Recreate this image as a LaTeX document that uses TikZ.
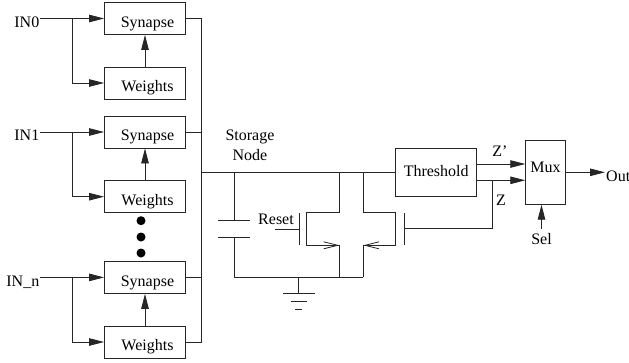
\documentclass[tikz,border=0pt]{standalone}
\usepackage{fontspec}
\setmainfont{Liberation Serif}
\usetikzlibrary{arrows.meta}
\tikzset{
  every node/.style={font=\fontsize{16}{18}\selectfont},
  wire/.style={line width=0.85pt,black!85},
  arrowwire/.style={wire,-{Triangle[length=15pt,width=7.5pt]}},
  openwire/.style={wire,-{Straight Barb[length=14pt,width=7pt,line width=0.8pt]}},
  block/.style={draw=black!85,line width=0.85pt,minimum width=81pt,minimum height=32pt,inner sep=0pt,anchor=center},
  lbl/.style={inner sep=0pt,anchor=base},
  blackdot/.style={circle,fill=black,inner sep=0pt,minimum size=9pt},
}
\newcommand{\blk}[1]{\hspace{5pt}\raisebox{-8.8pt}[0pt][0pt]{#1}}
\begin{document}
\begin{tikzpicture}[x=1pt,y=-1pt]
\useasboundingbox (0,0) rectangle (629,362);
% blocks
\node[block] (s0) at (145,18.5) {\blk{Synapse}};
\node[block] (w0) at (145,83) {\blk{Weights}};
\node[block] (s1) at (145,132) {\blk{Synapse}};
\node[block] (w1) at (145,196.7) {\blk{Weights}};
\node[block] (sn) at (145,277.4) {\blk{Synapse}};
\node[block] (wn) at (145,342) {\blk{Weights}};
\node[block,minimum width=81pt,minimum height=48pt] (th) at (436.2,172.2) {\raisebox{-4.5pt}[0pt][0pt]{Threshold}};
\node[block,minimum width=40.5pt,minimum height=64.7pt] (mux) at (545.5,172.3) {\raisebox{-0.4pt}[0pt][0pt]{Mux}};
% input labels
\node[lbl,anchor=base east] (in0) at (39.5,27) {IN0};
\node[lbl,anchor=base east] (in1) at (39.5,140) {IN1};
\node[lbl,anchor=base east] (inn) at (39.5,286) {IN\_n};
\coordinate (i0) at (40,18.5); \coordinate (b0) at (72.5,18.5); \coordinate (b0d) at (72.5,83);
\coordinate (i1) at (40,132); \coordinate (b1) at (72.5,132); \coordinate (b1d) at (72.5,196.7);
\coordinate (in) at (40,277.4); \coordinate (bn) at (72.5,277.4); \coordinate (bnd) at (72.5,342);
\foreach \a/\b/\c/\d/\e/\f in {i0/b0/b0d/s0/w0/0,i1/b1/b1d/s1/w1/1,in/bn/bnd/sn/wn/n}{
  \draw[arrowwire] (\a) -- (\d.west);
  \draw[arrowwire] (\b) -- (\c) -- (\e.west);
  \draw[arrowwire] (\e.north) -- (\d.south);
}
% dots
\node[blackdot] (d1) at (141,220.7) {};
\node[blackdot] (d2) at (141,237) {};
\node[blackdot] (d3) at (141,253) {};
% bus
\coordinate (bus0) at (201.5,18.5);
\coordinate (bus1) at (201.5,132);
\coordinate (busn) at (201.5,277.4);
\coordinate (busw) at (201.5,342);
\coordinate (busm) at (201.5,172.2);
\draw[wire] (s0.east) -- (bus0) -- (busw) -- (wn.east);
\draw[wire] (s1.east) -- (bus1);
\draw[wire] (sn.east) -- (busn);
\draw[wire] (busm) -- (th.west);
\node[lbl] (st) at (250,140) {Storage};
\node[lbl] (nd) at (250,160) {Node};
% capacitor
\coordinate (ct) at (234,172.2); \coordinate (c1) at (234,220.7); \coordinate (c2) at (234,237); \coordinate (cb) at (234,277.3);
\coordinate (c1l) at (218,220.7); \coordinate (c1r) at (250,220.7);
\coordinate (c2l) at (218,237); \coordinate (c2r) at (250,237);
\draw[wire] (ct) -- (c1) (c2) -- (cb);
\draw[wire] (c1l) -- (c1r) (c2l) -- (c2r);
% left transistor
\coordinate (lt) at (339.3,172.2); \coordinate (lu) at (339.3,212.7); \coordinate (lcu) at (306.7,212.7);
\coordinate (lcd) at (306.7,245.3); \coordinate (ld) at (339.3,245.3); \coordinate (lb) at (339.3,277.3);
\coordinate (lg1) at (299,213); \coordinate (lg2) at (299,245); \coordinate (lgi) at (275,229); \coordinate (lgo) at (299,229);
\draw[wire] (lt) -- (lu) -- (lcu) -- (lcd) -- (ld) -- (lb);
\draw[openwire] (lcd) -- (ld);
\draw[wire] (lg1) -- (lg2) (lgi) -- (lgo);
\node[lbl] (rs) at (276,224) {Reset};
% right transistor
\coordinate (rt) at (363.3,172.2); \coordinate (ru) at (363.3,212.7); \coordinate (rcu) at (395.7,212.7);
\coordinate (rcd) at (395.7,245.3); \coordinate (rd) at (363.3,245.3); \coordinate (rb) at (363.3,277.3);
\coordinate (rg1) at (404,213); \coordinate (rg2) at (404,245); \coordinate (rgo) at (404,228.7);
\draw[wire] (rt) -- (ru) -- (rcu) -- (rcd) -- (rd) -- (rb);
\draw[openwire] (rcd) -- (rd);
\draw[wire] (rg1) -- (rg2);
% bottom and ground
\draw[wire] (cb) -- (rb);
\coordinate (gt) at (298.7,277.3); \coordinate (gb) at (298.7,293.7);
\coordinate (g1l) at (283,293.7); \coordinate (g1r) at (315,293.7);
\coordinate (g2l) at (290.7,301.5); \coordinate (g2r) at (307,301.5);
\coordinate (g3l) at (295,309); \coordinate (g3r) at (302,309);
\draw[wire] (gt) -- (gb) (g1l) -- (g1r) (g2l) -- (g2r) (g3l) -- (g3r);
% threshold to mux
\coordinate (zpa) at (476.7,164); \coordinate (zpb) at (525.3,164);
\coordinate (za) at (476.7,180.3); \coordinate (zb) at (525.3,180.3);
\coordinate (zj) at (492.7,180.3); \coordinate (zc) at (492.7,228.7);
\draw[arrowwire] (zpa) -- (zpb);
\draw[arrowwire] (za) -- (zb);
\draw[wire] (zj) -- (zc) -- (rgo);
\node[lbl] (zp) at (500,156) {Z'};
\node[lbl] (z) at (501,205) {Z};
% out and sel
\coordinate (oe) at (605,172.3);
\draw[arrowwire] (mux.east) -- (oe);
\node[lbl,anchor=base west] (ot) at (606,181) {Out};
\coordinate (sb) at (541.5,229); \coordinate (st2) at (541.5,204.7);
\draw[arrowwire] (sb) -- (st2);
\node[lbl] (sl) at (541.5,244.5) {Sel};
\end{tikzpicture}
\end{document}
